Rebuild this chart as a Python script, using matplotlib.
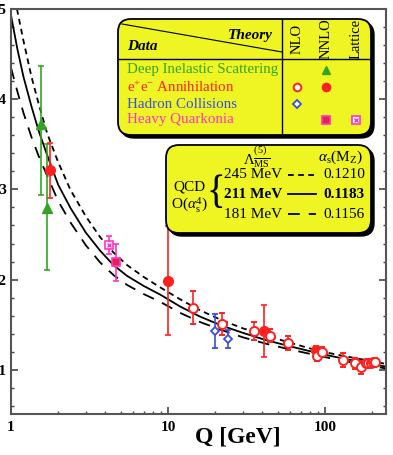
import matplotlib
matplotlib.use("Agg")
import matplotlib.pyplot as plt
from matplotlib.patches import FancyBboxPatch
from matplotlib.lines import Line2D

plt.rcParams['font.family'] = ['Liberation Serif', 'DejaVu Serif']
plt.rcParams['mathtext.fontset'] = 'custom'
plt.rcParams['mathtext.rm'] = 'Liberation Serif'
plt.rcParams['mathtext.it'] = 'Liberation Serif:italic'
plt.rcParams['mathtext.bf'] = 'Liberation Serif:bold'

# ---------------- data ----------------
# QCD curves
curve_q = [1.0, 1.1, 1.2, 1.35, 1.5, 1.7, 2.0, 2.4, 3.0, 3.7, 4.5, 5.5, 7.0, 9.0,
           12, 16, 22, 30, 42, 60, 91.2, 130, 180, 245]
curve_211 = [0.493, 0.455, 0.425, 0.392, 0.365, 0.338, 0.305, 0.279, 0.252, 0.232,
             0.216, 0.204, 0.193, 0.183, 0.170, 0.159, 0.149, 0.141, 0.133, 0.126,
             0.1183, 0.1125, 0.108, 0.1035]
curve_245 = [0.540, 0.497, 0.465, 0.425, 0.395, 0.362, 0.330, 0.299, 0.270, 0.247,
             0.230, 0.216, 0.203, 0.191, 0.178, 0.166, 0.155, 0.146, 0.138, 0.130,
             0.1210, 0.1155, 0.111, 0.1065]
curve_181 = [0.435, 0.408, 0.385, 0.358, 0.337, 0.315, 0.287, 0.263, 0.238, 0.219,
             0.205, 0.194, 0.184, 0.175, 0.163, 0.153, 0.144, 0.136, 0.129, 0.1225,
             0.1156, 0.110, 0.1055, 0.1015]

# Deep inelastic scattering (NNLO)
dis_q = [1.55, 1.69]
dis_a = [0.373, 0.279]
dis_lo = [0.079, 0.068]
dis_hi = [0.064, 0.071]

# e+e- annihilation NNLO (filled)
ee_nnlo_q = [1.78, 10.0, 41.1, 87.3]
ee_nnlo_a = [0.321, 0.199, 0.143, 0.122]
ee_nnlo_e = [0.030, 0.060, 0.029, 0.004]

# e+e- annihilation NLO (open)
ee_nlo_q = [14.5, 22.1, 35.5, 44.6, 58.4, 89.3, 95.3, 131, 155, 171, 183, 189, 196, 203, 210]
ee_nlo_a = [0.169, 0.151, 0.143, 0.138, 0.130, 0.115, 0.120, 0.111, 0.107, 0.1026,
            0.107, 0.1075, 0.108, 0.1085, 0.109]
ee_nlo_e = [0.018, 0.0125, 0.010, 0.0075, 0.0075, 0.005, 0.005, 0.008, 0.0065, 0.007,
            0.004, 0.004, 0.004, 0.004, 0.004]

# Hadron collisions NLO (open diamond)
had_q = [19.9, 24.2]
had_a = [0.143, 0.134]
had_e = [0.019, 0.010]

# Heavy quarkonia NNLO (filled square) and lattice
hq_q = [4.67]
hq_a = [0.219]
hq_e = [0.020]
lat_q = [4.23]
lat_a = [0.238]
lat_e = [0.010]

xticks = [1, 10, 100]
xticklabels = ['1', '10', '100']
yticks = [0.1, 0.2, 0.3, 0.4, 0.5]
yticklabels = ['0.1', '0.2', '0.3', '0.4', '0.5']

# colours
GREEN = '#33a422'
RED = '#ff2020'
BLUE = '#3a4ee0'
MAG = '#ff33cc'
YEL = '#eef522'

W, H = 393, 455
fig = plt.figure(figsize=(W / 100, H / 100), dpi=100)
ax = fig.add_axes([11 / W, 1 - 414 / H, 375 / W, 405 / H])
ax.set_xscale('log')
ax.set_xlim(1, 245)
ax.set_ylim(0.051, 0.5)

lw = 1.3
ax.plot(curve_q, curve_245, color='black', lw=lw, dashes=(3.2, 2.4), zorder=2)
ax.plot(curve_q, curve_211, color='black', lw=lw, zorder=2)
ax.plot(curve_q, curve_181, color='black', lw=lw, dashes=(6.5, 5.0), zorder=2)

eb = dict(capsize=2.5, elinewidth=1.2, capthick=1.2, zorder=3)
ax.errorbar(dis_q, dis_a, yerr=[dis_lo, dis_hi], fmt='^', ms=7, color=GREEN,
            mfc=GREEN, mec=GREEN, **eb)
ax.errorbar(ee_nnlo_q, ee_nnlo_a, yerr=ee_nnlo_e, fmt='o', ms=7, color=RED,
            mfc=RED, mec=RED, **eb)
ax.errorbar(ee_nlo_q, ee_nlo_a, yerr=ee_nlo_e, fmt='o', ms=6.5, color=RED,
            mfc='white', mec=RED, mew=1.4, **eb)
ax.errorbar(had_q, had_a, yerr=had_e, fmt='D', ms=4.5, color=BLUE,
            mfc='white', mec=BLUE, mew=1.3, **eb)
ax.errorbar(hq_q, hq_a, yerr=hq_e, fmt='s', ms=6, color=MAG,
            mfc='#e8204a', mec=MAG, mew=1.2, **eb)
ax.errorbar(lat_q, lat_a, yerr=lat_e, fmt='s', ms=6, color=MAG,
            mfc='white', mec=MAG, mew=1.2, **eb)
ax.plot(lat_q, lat_a, 'x', ms=3.5, color=MAG, mew=1.0, zorder=4)

ax.set_xticks(xticks)
ax.set_xticklabels(xticklabels)
ax.set_yticks(yticks)
ax.set_yticklabels(yticklabels)
ax.set_yticks([0.06, 0.08, 0.12, 0.14, 0.16, 0.18, 0.22, 0.24, 0.26, 0.28, 0.32,
               0.34, 0.36, 0.38, 0.42, 0.44, 0.46, 0.48], minor=True)
ax.tick_params(which='both', direction='in', right=True, top=False, color='#444444')
ax.tick_params(which='major', length=5, width=1.2)
ax.tick_params(which='minor', length=2.5, width=1.0)
ax.tick_params(axis='x', labelsize=11, pad=5)
ax.tick_params(axis='y', labelsize=11, pad=3)
for lab in ax.get_xticklabels() + ax.get_yticklabels():
    lab.set_fontweight('bold')
for s in ax.spines.values():
    s.set_color('#555555')
    s.set_linewidth(1.5)
ax.set_xlabel('Q [GeV]', fontsize=17, fontweight='bold')
ax.xaxis.label.set_va('center')
ax.xaxis.set_label_coords((238 - 11) / 375, -(437 - 414) / 405)

# ---------- overlay in pixel coordinates for the legend boxes ----------
ov = fig.add_axes([0, 0, 1, 1])
ov.set_xlim(0, W)
ov.set_ylim(H, 0)
ov.axis('off')
ov.patch.set_alpha(0)


def shadow_box(x0, y0, x1, y1, r=13):
    sh = FancyBboxPatch((x0 + 3, y0 + 3), x1 - x0, y1 - y0,
                        boxstyle=f'round,pad=0,rounding_size={r}',
                        fc='black', ec='black', lw=1, zorder=1)
    bx = FancyBboxPatch((x0, y0), x1 - x0, y1 - y0,
                        boxstyle=f'round,pad=0,rounding_size={r}',
                        fc=YEL, ec='black', lw=1.3, zorder=2)
    ov.add_patch(sh)
    ov.add_patch(bx)


# upper box: data / theory table
shadow_box(118, 19, 371, 135)
ov.add_line(Line2D([118, 371], [59, 59], color='black', lw=1.0, zorder=3))
ov.add_line(Line2D([282, 282], [19, 135], color='black', lw=1.0, zorder=3))
ov.add_line(Line2D([122, 282], [24, 52], color='black', lw=0.8, zorder=3))
ov.text(273, 35, 'Theory', ha='right', va='center', fontsize=11,
        fontweight='bold', style='italic', zorder=4)
ov.text(127, 46, 'Data', ha='left', va='center', fontsize=11,
        fontweight='bold', style='italic', zorder=4)
for xc, t in [(297, 'NLO'), (326, 'NNLO'), (356, 'Lattice')]:
    ov.text(xc, 39, t, rotation=90, ha='center', va='center', fontsize=10.5, zorder=4)

rows_y = [69.5, 87, 104, 120]
ov.text(127, rows_y[0], 'Deep Inelastic Scattering', color=GREEN, fontsize=10.8,
        ha='left', va='center', zorder=4)
ov.text(127, rows_y[1], 'e$^{+}$e$^{-}$ Annihilation', color=RED, fontsize=10.8,
        ha='left', va='center', zorder=4)
ov.text(127, rows_y[2], 'Hadron Collisions', color=BLUE, fontsize=10.8,
        ha='left', va='center', zorder=4)
ov.text(127, rows_y[3], 'Heavy Quarkonia', color=MAG, fontsize=10.8,
        ha='left', va='center', zorder=4)
ov.plot([326], [rows_y[0]], '^', ms=6, color=GREEN, zorder=4)
ov.plot([297], [rows_y[1]], 'o', ms=5.5, mfc='white', mec=RED, mew=1.4, zorder=4)
ov.plot([326], [rows_y[1]], 'o', ms=6, color=RED, zorder=4)
ov.plot([297], [rows_y[2]], 'D', ms=4, mfc='white', mec=BLUE, mew=1.3, zorder=4)
ov.plot([326], [rows_y[3]], 's', ms=5.5, mfc='#e8204a', mec=MAG, mew=1.2, zorder=4)
ov.plot([356], [rows_y[3]], 's', ms=5.5, mfc='white', mec=MAG, mew=1.2, zorder=4)
ov.plot([356], [rows_y[3]], 'x', ms=3, color=MAG, mew=1.0, zorder=5)

# lower box: QCD curves
shadow_box(166, 145, 371, 233)
ov.text(257, 158, r'$\Lambda^{(5)}_{\overline{\rm MS}}$', ha='center', va='center',
        fontsize=10.5, zorder=4)
ov.text(340, 157, r'$\alpha_{\rm s}$(M$_{\rm Z}$)', ha='center', va='center',
        fontsize=11, zorder=4)
ov.text(189, 187, 'QCD', ha='center', va='center', fontsize=11, zorder=4)
ov.text(189, 205, r'O($\alpha_{\rm s}^{4}$)', ha='center', va='center',
        fontsize=11, zorder=4)
ov.text(216, 194, '{', ha='center', va='center', fontsize=28, zorder=4)
box_rows = [(175, '245 MeV', '0.1210', 'normal', (3.2, 2.4)),
            (194, '211 MeV', '0.1183', 'bold', None),
            (214, '181 MeV', '0.1156', 'normal', (6.5, 5.0))]
for yy, lam, als, fw, dsh in box_rows:
    ov.text(224, yy, lam, ha='left', va='center', fontsize=11, fontweight=fw, zorder=4)
    ov.text(365, yy, als, ha='right', va='center', fontsize=11, fontweight=fw, zorder=4)
    ln = Line2D([288, 316], [yy, yy], color='black', lw=1.3, zorder=4)
    if dsh is not None:
        ln.set_dashes(dsh)
    ov.add_line(ln)

fig.savefig('out.png', dpi=100)
